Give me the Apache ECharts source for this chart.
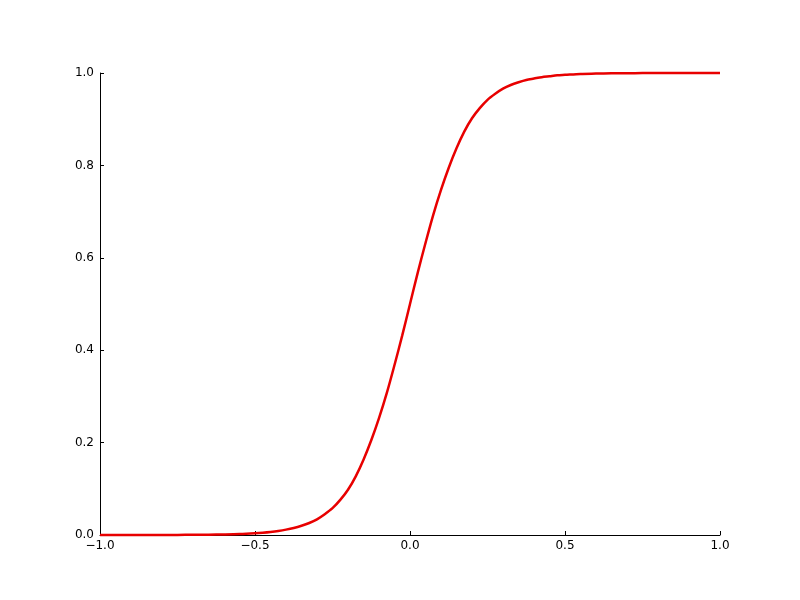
<!DOCTYPE html>
<html>
<head>
<meta charset="utf-8">
<script src="https://cdn.jsdelivr.net/npm/echarts@6/dist/echarts.min.js"></script>
<style>html,body{margin:0;padding:0;background:#fff}#c{width:800px;height:600px}</style>
</head>
<body>
<div id="c"></div>
<script>
var xValues = [-1.0,-0.95,-0.9,-0.85,-0.8,-0.75,-0.7,-0.65,-0.6,-0.55,-0.5,-0.475,-0.45,-0.425,-0.4,-0.375,-0.35,-0.325,-0.3,-0.275,-0.25,-0.225,-0.2,-0.175,-0.15,-0.125,-0.1,-0.075,-0.05,-0.025,0.0,0.025,0.05,0.075,0.1,0.125,0.15,0.175,0.2,0.225,0.25,0.275,0.3,0.325,0.35,0.375,0.4,0.425,0.45,0.475,0.5,0.55,0.6,0.65,0.7,0.75,0.8,0.85,0.9,0.95,1.0];
var yValues = [0.0000,0.0000,0.0000,0.0001,0.0001,0.0002,0.0004,0.0007,0.0013,0.0022,0.0039,0.0051,0.0067,0.0088,0.0116,0.0152,0.020,0.026,0.034,0.045,0.058,0.076,0.098,0.127,0.163,0.205,0.253,0.307,0.368,0.432,0.5,0.568,0.632,0.693,0.747,0.795,0.837,0.873,0.902,0.924,0.942,0.955,0.966,0.974,0.980,0.985,0.988,0.991,0.993,0.995,0.996,0.998,0.9987,0.9993,0.9996,0.9998,0.9999,1.0,1.0,1.0,1.0];
var xTicks = [-1.0,-0.5,0.0,0.5,1.0];
var yTicks = [0.0,0.2,0.4,0.6,0.8,1.0];

function fmt(v){ var s = v.toFixed(1); return s.replace('-', '\u2212'); }

var chart = echarts.init(document.getElementById('c'));
chart.setOption({
  animation: false,
  backgroundColor: '#fff',
  grid: {left: 100, right: 80, top: 73, bottom: 65, containLabel: false},
  xAxis: {
    type: 'value', min: -1.0, max: 1.0, interval: 0.5,
    axisLine: {show: true, onZero: false, lineStyle: {color: '#000', width: 1}},
    axisTick: {show: true, inside: true, length: 4, lineStyle: {color: '#000'}},
    axisLabel: {color: '#000', fontSize: 12, fontFamily: 'DejaVu Sans', margin: 5, formatter: fmt},
    splitLine: {show: false}
  },
  yAxis: {
    type: 'value', min: 0, max: 1.0, interval: 0.2,
    axisLine: {show: true, onZero: false, lineStyle: {color: '#000', width: 1}},
    axisTick: {show: true, inside: true, length: 4, lineStyle: {color: '#000'}},
    axisLabel: {color: '#000', fontSize: 12, fontFamily: 'DejaVu Sans', margin: 6, formatter: fmt},
    splitLine: {show: false}
  },
  series: [{
    type: 'line',
    data: xValues.map(function(x, i){ return [x, yValues[i]]; }),
    showSymbol: false,
    smooth: 0.3,
    clip: false,
    lineStyle: {color: '#e80000', width: 2.5}
  }]
});
</script>
</body>
</html>
